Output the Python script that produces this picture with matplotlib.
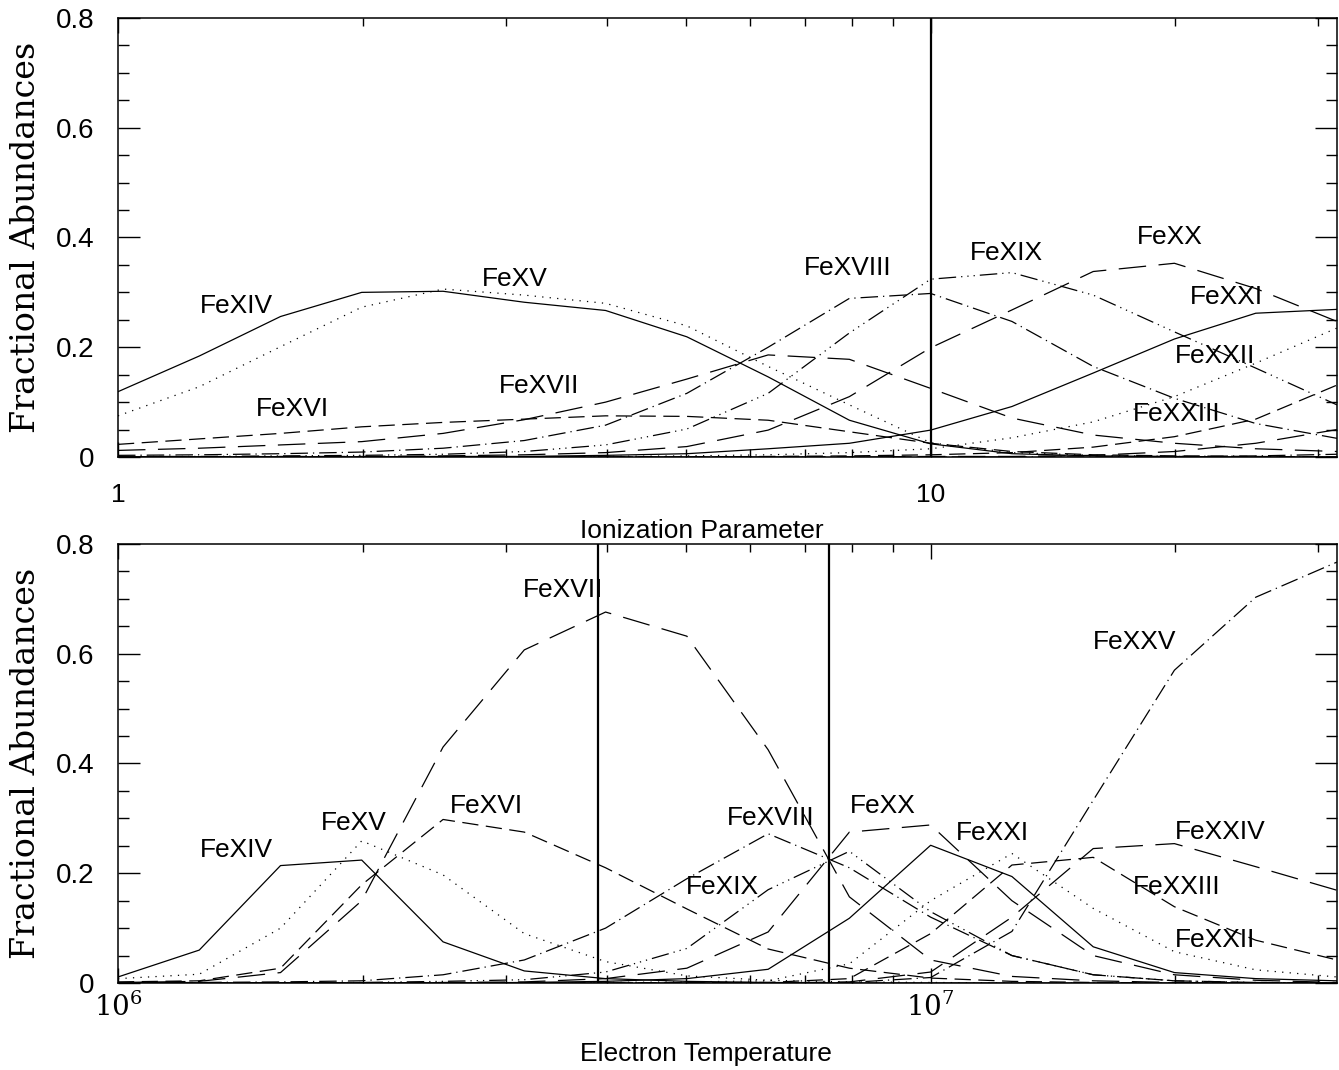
import matplotlib
matplotlib.use("Agg")
import matplotlib.pyplot as plt
from matplotlib.ticker import FixedLocator, NullFormatter

plt.rcParams["font.family"] = ["Liberation Sans", "DejaVu Sans"]
plt.rcParams["mathtext.fontset"] = "dejavuserif"

# sample points, 0.1 dex apart
xi_grid = [1.0, 1.259, 1.585, 1.995, 2.512, 3.162, 3.981, 5.012, 6.310, 7.943,
           10.0, 12.59, 15.85, 19.95, 25.12, 31.62]
te_grid = [1.0e6, 1.259e6, 1.585e6, 1.995e6, 2.512e6, 3.162e6, 3.981e6, 5.012e6,
           6.310e6, 7.943e6, 1.0e7, 1.259e7, 1.585e7, 1.995e7, 2.512e7, 3.162e7]

ions = ["FeXIV", "FeXV", "FeXVI", "FeXVII", "FeXVIII", "FeXIX",
        "FeXX", "FeXXI", "FeXXII", "FeXXIII", "FeXXIV", "FeXXV"]

# fractional abundances vs ionization parameter
xi_fe14 = [0.119, 0.184, 0.256, 0.300, 0.302, 0.282, 0.267, 0.219, 0.146, 0.067, 0.024, 0.006, 0.002, 0.001, 0.0, 0.0]
xi_fe15 = [0.075, 0.128, 0.201, 0.273, 0.306, 0.295, 0.280, 0.239, 0.165, 0.095, 0.026, 0.008, 0.003, 0.001, 0.0, 0.0]
xi_fe16 = [0.023, 0.033, 0.043, 0.055, 0.063, 0.069, 0.075, 0.074, 0.067, 0.046, 0.025, 0.010, 0.004, 0.002, 0.001, 0.0]
xi_fe17 = [0.012, 0.016, 0.022, 0.028, 0.043, 0.068, 0.100, 0.142, 0.186, 0.178, 0.125, 0.071, 0.040, 0.025, 0.015, 0.010]
xi_fe18 = [0.003, 0.004, 0.006, 0.009, 0.016, 0.030, 0.058, 0.116, 0.200, 0.289, 0.298, 0.247, 0.165, 0.107, 0.061, 0.034]
xi_fe19 = [0.001, 0.001, 0.002, 0.003, 0.005, 0.010, 0.022, 0.051, 0.116, 0.226, 0.324, 0.336, 0.295, 0.228, 0.162, 0.095]
xi_fe20 = [0.0, 0.0, 0.001, 0.001, 0.002, 0.004, 0.008, 0.019, 0.049, 0.110, 0.199, 0.268, 0.338, 0.353, 0.307, 0.247]
xi_fe21 = [0.0, 0.0, 0.0, 0.0, 0.001, 0.001, 0.003, 0.006, 0.015, 0.025, 0.049, 0.092, 0.153, 0.215, 0.262, 0.269]
xi_fe22 = [0.0, 0.0, 0.0, 0.0, 0.0, 0.0, 0.001, 0.002, 0.004, 0.008, 0.015, 0.035, 0.064, 0.110, 0.171, 0.235]
xi_fe23 = [0.0, 0.0, 0.0, 0.0, 0.0, 0.0, 0.0, 0.0, 0.001, 0.002, 0.004, 0.008, 0.018, 0.037, 0.069, 0.131]
xi_fe24 = [0.0, 0.0, 0.0, 0.0, 0.0, 0.0, 0.0, 0.0, 0.0, 0.0, 0.001, 0.001, 0.003, 0.010, 0.025, 0.050]
xi_fe25 = [0.0, 0.0, 0.0, 0.0, 0.0, 0.0, 0.0, 0.0, 0.0, 0.0, 0.0, 0.0, 0.0, 0.001, 0.002, 0.005]

# fractional abundances vs electron temperature
te_fe14 = [0.011, 0.060, 0.214, 0.224, 0.075, 0.022, 0.008, 0.003, 0.001, 0.0, 0.0, 0.0, 0.0, 0.0, 0.0, 0.0]
te_fe15 = [0.008, 0.016, 0.100, 0.259, 0.197, 0.090, 0.039, 0.013, 0.005, 0.002, 0.001, 0.0, 0.0, 0.0, 0.0, 0.0]
te_fe16 = [0.002, 0.004, 0.027, 0.179, 0.298, 0.275, 0.210, 0.135, 0.062, 0.027, 0.009, 0.003, 0.001, 0.0, 0.0, 0.0]
te_fe17 = [0.001, 0.003, 0.019, 0.150, 0.430, 0.607, 0.676, 0.632, 0.425, 0.157, 0.042, 0.012, 0.004, 0.001, 0.0, 0.0]
te_fe18 = [0.0, 0.001, 0.002, 0.004, 0.015, 0.042, 0.100, 0.190, 0.272, 0.210, 0.120, 0.050, 0.015, 0.004, 0.001, 0.0]
te_fe19 = [0.0, 0.0, 0.0, 0.001, 0.003, 0.006, 0.020, 0.063, 0.170, 0.240, 0.130, 0.050, 0.015, 0.004, 0.001, 0.0]
te_fe20 = [0.0, 0.0, 0.0, 0.0, 0.001, 0.002, 0.008, 0.027, 0.093, 0.275, 0.288, 0.150, 0.050, 0.015, 0.005, 0.001]
te_fe21 = [0.0, 0.0, 0.0, 0.0, 0.0, 0.001, 0.003, 0.008, 0.025, 0.118, 0.251, 0.194, 0.066, 0.019, 0.008, 0.004]
te_fe22 = [0.0, 0.0, 0.0, 0.0, 0.0, 0.0, 0.001, 0.002, 0.004, 0.035, 0.150, 0.236, 0.136, 0.057, 0.024, 0.011]
te_fe23 = [0.0, 0.0, 0.0, 0.0, 0.0, 0.0, 0.0, 0.001, 0.001, 0.008, 0.090, 0.215, 0.229, 0.139, 0.078, 0.042]
te_fe24 = [0.0, 0.0, 0.0, 0.0, 0.0, 0.0, 0.0, 0.0, 0.0, 0.002, 0.020, 0.120, 0.245, 0.254, 0.212, 0.169]
te_fe25 = [0.0, 0.0, 0.0, 0.0, 0.0, 0.0, 0.0, 0.0, 0.0, 0.001, 0.010, 0.094, 0.333, 0.570, 0.703, 0.767]

# label anchors
xi_lab_x = [1.40, 3.08, 1.64, 3.30, 7.91, 12.4, 19.7, 23.1, 22.4, 20.1]
xi_lab_y = [0.275, 0.324, 0.087, 0.129, 0.344, 0.372, 0.401, 0.292, 0.184, 0.078]
te_lab_x = [1.40e6, 1.95e6, 2.84e6, 3.53e6, 6.36e6, 5.55e6, 8.73e6, 1.19e7, 2.24e7, 2.01e7, 2.27e7, 1.78e7]
te_lab_y = [0.242, 0.292, 0.323, 0.716, 0.301, 0.175, 0.323, 0.273, 0.078, 0.175, 0.275, 0.621]

xi_marks = [10.0]
te_marks = [3.9e6, 7.5e6]

styles = ["-", (0, (1, 5)), (0, (13, 6)), (0, (22, 10)), (0, (14, 4, 1, 4)),
          (0, (14, 4, 1, 4, 1, 4, 1, 4)), (0, (22, 10)), "-", (0, (1, 5)),
          (0, (13, 6)), (0, (22, 10)), (0, (14, 4, 1, 4))]

xi_sets = [xi_fe14, xi_fe15, xi_fe16, xi_fe17, xi_fe18, xi_fe19,
           xi_fe20, xi_fe21, xi_fe22, xi_fe23, xi_fe24, xi_fe25]
te_sets = [te_fe14, te_fe15, te_fe16, te_fe17, te_fe18, te_fe19,
           te_fe20, te_fe21, te_fe22, te_fe23, te_fe24, te_fe25]

fig = plt.figure(figsize=(13.39, 10.70), dpi=100)
ax1 = fig.add_axes([0.0881, 0.5729, 0.9104, 0.4103])
ax2 = fig.add_axes([0.0881, 0.0813, 0.9104, 0.4103])

for ax, grid, sets in ((ax1, xi_grid, xi_sets), (ax2, te_grid, te_sets)):
    for vals, ls in zip(sets, styles):
        ax.plot(grid, vals, color="black", lw=0.9, linestyle=ls)
    ax.set_xscale("log")
    ax.set_ylim(0, 0.8)
    ax.yaxis.set_major_locator(FixedLocator([0, 0.2, 0.4, 0.6, 0.8]))
    ax.yaxis.set_minor_locator(FixedLocator([0.05, 0.1, 0.15, 0.25, 0.3, 0.35,
                                             0.45, 0.5, 0.55, 0.65, 0.7, 0.75]))
    ax.set_yticklabels(["0", "0.2", "0.4", "0.6", "0.8"], fontsize=20)
    ax.tick_params(axis="both", which="both", direction="in", top=True, right=True, width=1.0)
    ax.tick_params(axis="y", which="major", length=16, pad=17)
    ax.tick_params(axis="y", which="minor", length=8)
    ax.tick_params(axis="x", which="major", length=11)
    ax.tick_params(axis="x", which="minor", length=5.5)
    ax.xaxis.set_minor_formatter(NullFormatter())
    for sp in ax.spines.values():
        sp.set_linewidth(1.1)
    ax.set_ylabel("Fractional Abundances", family="DejaVu Serif", fontsize=24)
    ax.yaxis.set_label_coords(-0.062, 0.5)

ax1.set_xlim(1, 10 ** 1.5)
ax1.xaxis.set_major_locator(FixedLocator([1, 10]))
ax1.xaxis.set_minor_locator(FixedLocator([2, 3, 4, 5, 6, 7, 8, 9, 20, 30]))
ax1.set_xticklabels(["1", "10"], fontsize=19)
ax1.tick_params(axis="x", which="major", pad=19)
ax1.set_xlabel("Ionization Parameter", fontsize=19)
ax1.xaxis.set_label_coords(0.479, -0.142)

ax2.set_xlim(1e6, 10 ** 7.5)
ax2.xaxis.set_major_locator(FixedLocator([1e6, 1e7]))
ax2.xaxis.set_minor_locator(FixedLocator([2e6, 3e6, 4e6, 5e6, 6e6, 7e6, 8e6, 9e6, 2e7, 3e7]))
ax2.set_xticklabels([r"$10^6$", r"$10^7$"], fontsize=20)
ax2.tick_params(axis="x", which="major", pad=7)
ax2.set_xlabel("Electron Temperature", fontsize=19)
ax2.xaxis.set_label_coords(0.482, -0.135)

for x in xi_marks:
    ax1.axvline(x, color="black", lw=1.6)
for x in te_marks:
    ax2.axvline(x, color="black", lw=1.6)

for name, x, y in zip(ions, xi_lab_x, xi_lab_y):
    ax1.text(x, y, name, fontsize=19, ha="center", va="center")
for name, x, y in zip(ions, te_lab_x, te_lab_y):
    ax2.text(x, y, name, fontsize=19, ha="center", va="center")

fig.savefig("out.png", dpi=100)
